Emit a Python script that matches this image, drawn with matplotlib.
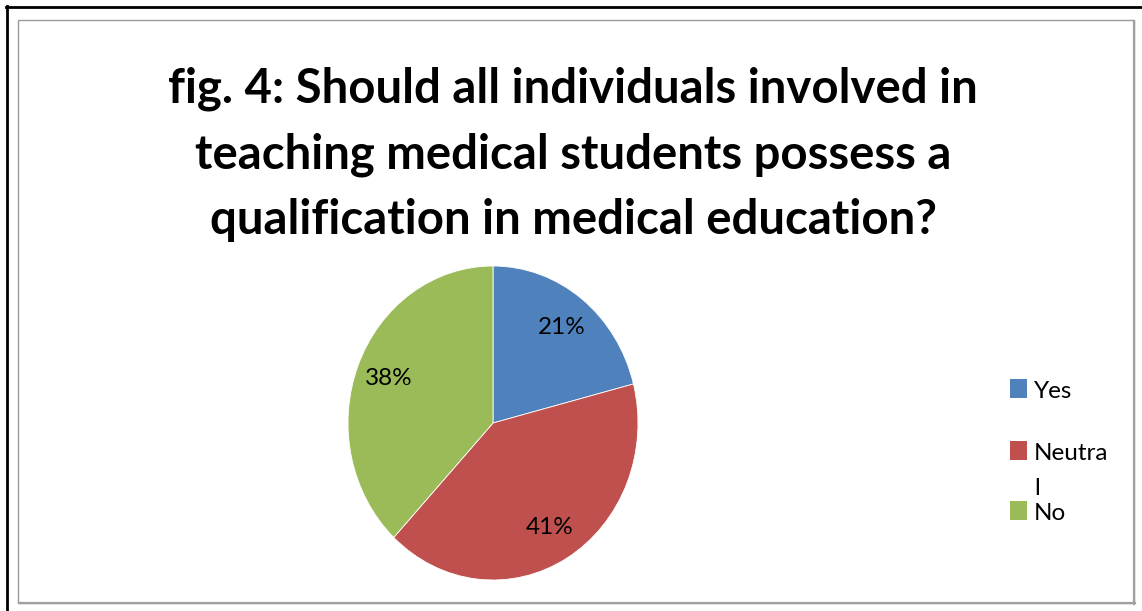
import matplotlib
matplotlib.use("Agg")
import matplotlib.pyplot as plt
from matplotlib.patches import Rectangle
from matplotlib.lines import Line2D

W, H = 1142, 611

title_lines = [
    "fig. 4: Should all individuals involved in",
    "teaching medical students possess a",
    "qualification in medical education?",
]
categories = ["Yes", "Neutral", "No"]
legend_labels = ["Yes", "Neutra\nl", "No"]
shares = [21, 41, 38]
colors = ["#4F81BD", "#C0504D", "#9BBB59"]

FONT = ["Lato", "DejaVu Sans"]

fig = plt.figure(figsize=(W / 100, H / 100), dpi=100)
fig.patch.set_facecolor("white")

def fx(px):
    return px / W

def fy(py):
    return 1 - py / H

# page frame: black rule on top and left, grey chart box inside
fig.add_artist(Line2D([fx(6), 1.0], [fy(7), fy(7)], color="black", lw=2.0))
fig.add_artist(Line2D([fx(7), fx(7)], [fy(6), 0.0], color="black", lw=2.0))
fig.add_artist(Rectangle((fx(18), fy(603)), fx(1134) - fx(18), fy(20) - fy(603),
                         fill=False, edgecolor="#9a9a9a", lw=1.0))
fig.add_artist(Line2D([fx(1134), fx(1134)], [fy(21), fy(604)], color="#a0a0a0", lw=1.6))
fig.add_artist(Line2D([fx(19), fx(1135)], [fy(603), fy(603)], color="#a0a0a0", lw=1.6))

# title, one line per text
for i, line in enumerate(title_lines):
    fig.text(fx(573), fy(103 + 65.5 * i), line, ha="center", va="baseline",
             fontsize=34, fontweight="bold", family=FONT)

# pie
ax = fig.add_axes([fx(348), fy(580), fx(638) - fx(348), fy(266) - fy(580)])
wedges, _, autotexts = ax.pie(shares, colors=colors, startangle=90, counterclock=False,
                              autopct="%d%%", pctdistance=0.77,
                              wedgeprops=dict(linewidth=0.6, edgecolor="white"),
                              textprops=dict(fontsize=17.5, family=FONT))
ax.set_aspect("auto")
ax.set_xlim(-1, 1)
ax.set_ylim(-1, 1)
ax.axis("off")

# legend, drawn by hand; wrapped labels continue 35 px lower
legend_y = [398, 460, 520]
for lab, col, by in zip(legend_labels, colors, legend_y):
    fig.add_artist(Rectangle((fx(1010), fy(by)), fx(17), 19 / H,
                             facecolor=col, edgecolor="none"))
    for k, part in enumerate(lab.split("\n")):
        fig.text(fx(1034), fy(by + 35 * k), part, ha="left", va="baseline",
                 fontsize=17.5, family=FONT)

fig.savefig("out.png", dpi=100)
